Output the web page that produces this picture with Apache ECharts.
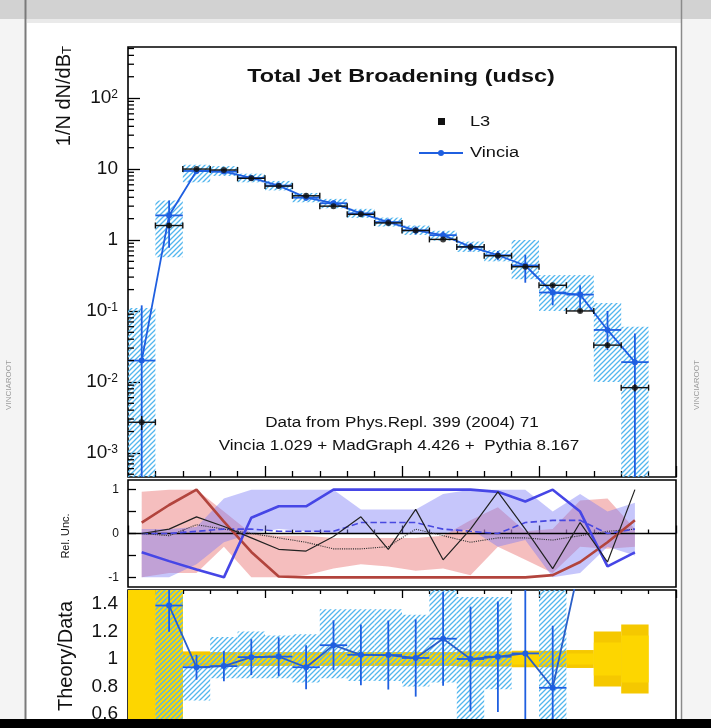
<!DOCTYPE html>
<html>
<head>
<meta charset="utf-8">
<script src="https://cdn.jsdelivr.net/npm/echarts@6/dist/echarts.min.js"></script>
<style>
  html, body { margin: 0; padding: 0; background: #ffffff; }
  #chart { width: 711px; height: 728px; }
</style>
</head>
<body>
<div id="chart"></div>
<script>
// ---- Total jet broadening B_T, L3 data vs Vincia ----
const binEdges = [0, 0.02, 0.04, 0.06, 0.08, 0.10, 0.12, 0.14, 0.16, 0.18, 0.20,
                  0.22, 0.24, 0.26, 0.28, 0.30, 0.32, 0.34, 0.36, 0.38];

// L3 measurement (1/N dN/dB_T) and its error
const dataVal = [0.0027, 1.6, 10.0, 9.7, 7.4, 5.75, 4.2, 3.0, 2.3, 1.74,
                 1.36, 1.02, 0.8, 0.6, 0.42, 0.23, 0.1, 0.033, 0.0083];
const dataErr = [0.0006, 0.12, 0.3, 0.3, 0.22, 0.17, 0.13, 0.09, 0.07, 0.05,
                 0.04, 0.03, 0.025, 0.02, 0.015, 0.01, 0.006, 0.003, 0.001];

// Vincia prediction and its error bars / uncertainty band
const mcVal  = [0.02, 2.22, 9.4, 9.2, 7.5, 5.85, 3.95, 3.3, 2.37, 1.79,
                1.37, 1.17, 0.8, 0.61, 0.437, 0.182, 0.17, 0.054, 0.019];
const mcLo   = [0.00001, 0.78, 8.6, 8.5, 6.9, 5.4, 3.6, 3.0, 2.15, 1.6,
                1.2, 1.02, 0.69, 0.52, 0.25, 0.12, 0.11, 0.028, 0.00001];
const mcHi   = [0.12, 3.6, 10.2, 9.9, 8.1, 6.3, 4.3, 3.6, 2.6, 2.0,
                1.55, 1.32, 0.91, 0.7, 0.62, 0.24, 0.23, 0.1, 0.048];
const bandLo = [0.00001, 0.57, 6.5, 8.0, 6.5, 5.0, 3.4, 2.8, 2.05, 1.55,
                1.18, 0.98, 0.68, 0.5, 0.28, 0.1, 0.1, 0.01, 0.00001];
const bandHi = [0.11, 3.6, 11.5, 11.0, 8.6, 6.8, 4.6, 3.8, 2.75, 2.07,
                1.6, 1.35, 0.95, 0.72, 1.0, 0.32, 0.32, 0.13, 0.06];

// Relative uncertainty components (per bin)
const relRed     = [0.25, 0.65, 1.0, 0.27, -0.42, -0.98, -1, -1, -1, -1,
                    -1, -1, -1, -1, -1, -0.95, -0.65, -0.2, 0.3];
const relBlue    = [-0.43, -0.63, -0.82, -1.0, 0.36, 0.62, 0.62, 1.0, 1.0, 1.0,
                    1.0, 1.0, 1.0, 0.95, 0.73, 1.0, 0.5, -0.75, -0.43];
const relBlue2   = [0, 0, 0.05, 0.1, 0.1, 0.05, 0.05, 0.05, 0.25, 0.25,
                    0.25, 0.1, 0.05, 0.0, 0.25, 0.3, 0.3, 0.0, 0.1];
const relBlack   = [0, 0.1, 0.38, 0.16, -0.1, -0.36, -0.4, -0.07, 0.38, -0.36,
                    0.55, -0.6, 0.1, 0.95, 0.1, -0.8, 0.25, -0.65, 1.0];
const relBlack2  = [0, -0.05, 0.2, 0.1, 0, -0.1, -0.2, -0.35, -0.35, -0.3,
                    0.1, -0.05, -0.2, -0.1, -0.1, -0.15, -0.05, 0.05, 0.1];
const relPinkHi  = [0.95, 1.0, 1.0, 0.5, 0.0, -0.05, -0.05, -0.1, -0.1, -0.1,
                    -0.1, -0.05, 0.3, 0.6, 0.05, 0.1, 0.75, 0.8, 0.1];
const relPinkLo  = [-1.0, -0.9, -0.9, -0.3, -1.0, -1.0, -0.95, -0.8, -0.7, -0.75,
                    -0.85, -0.8, -0.95, -0.3, -0.6, -0.9, -0.3, -0.35, -0.3];
const relLavHi   = [0.1, 0.1, 0.15, 0.8, 1.0, 1.0, 1.0, 1.0, 0.55, 0.55,
                    0.55, 0.9, 1.0, 1.0, 1.0, 0.5, 0.9, 0.5, 0.7];
const relLavLo   = [-1.0, -1.0, -0.7, -0.2, 0.0, 0.1, 0.05, 0.0, 0.0, 0.0,
                    0.0, 0.0, 0.1, -0.3, -0.15, -1.0, -0.9, -0.3, -0.5];

// Theory/Data panel
const ratioErr   = [0, 0.19, 0.09, 0.11, 0.13, 0.14, 0.16, 0.18, 0.22, 0.25,
                    0.28, 0.34, 0.38, 0.4, 1.2, 0.45, 0.1, 0.1, 0.1];
const ratioBandLo = [null, 0.4, 0.7, 0.86, 0.86, 0.86, 0.83, 0.86, 0.84, 0.84,
                     0.8, 0.83, 0.4, 0.78, null, 0.4, null, null, null];
const ratioBandHi = [null, 1.6, 1.03, 1.16, 1.2, 1.17, 1.18, 1.36, 1.36, 1.36,
                     1.32, 1.6, 1.45, 1.45, null, 1.6, null, null, null];
const dataRelTot  = [0.8, 0.8, 0.055, 0.05, 0.05, 0.05, 0.05, 0.05, 0.05, 0.05,
                     0.05, 0.05, 0.055, 0.055, 0.06, 0.06, 0.065, 0.2, 0.25];
const dataRelStat = [0.8, 0.8, 0.03, 0.03, 0.03, 0.03, 0.03, 0.03, 0.03, 0.03,
                     0.03, 0.03, 0.035, 0.035, 0.04, 0.04, 0.04, 0.12, 0.17];

// Axis decoration
const logDecades = [-4, -3, -2, -1, 0, 1, 2];
const logMinorMult = [2, 3, 4, 5, 6, 7, 8, 9];

const FONT = 'Liberation Sans, Arial, Helvetica, sans-serif';
const BLUE = '#1f5fe0';
const HATCH_BLUE = '#52b6ee';

const centers = binEdges.slice(0, -1).map((e, i) => (e + binEdges[i + 1]) / 2);

function hatchPattern(color, size, width) {
  const c = document.createElement('canvas');
  c.width = size; c.height = size;
  const g = c.getContext('2d');
  g.strokeStyle = color; g.lineWidth = width;
  g.beginPath();
  g.moveTo(0, size); g.lineTo(size, 0);
  g.moveTo(-size / 2, size / 2); g.lineTo(size / 2, -size / 2);
  g.moveTo(size / 2, size * 1.5); g.lineTo(size * 1.5, size / 2);
  g.stroke();
  return { image: c, repeat: 'repeat' };
}
const blueHatch = hatchPattern(HATCH_BLUE, 5, 1.3);

function clampRect(x0, y0, x1, y1, cs) {
  const l = Math.max(Math.min(x0, x1), cs.x), r = Math.min(Math.max(x0, x1), cs.x + cs.width);
  const t = Math.max(Math.min(y0, y1), cs.y), b = Math.min(Math.max(y0, y1), cs.y + cs.height);
  return { x: l, y: t, width: Math.max(0, r - l), height: Math.max(0, b - t) };
}

// boxes [x0, x1, y0, y1]
function boxSeries(name, xi, yi, boxes, fill, z) {
  return {
    name, type: 'custom', xAxisIndex: xi, yAxisIndex: yi, z, clip: true,
    encode: { x: [0, 1], y: [2, 3] },
    data: boxes,
    renderItem(params, api) {
      const p0 = api.coord([api.value(0), api.value(2)]);
      const p1 = api.coord([api.value(1), api.value(3)]);
      return { type: 'rect', shape: clampRect(p0[0], p0[1], p1[0], p1[1], params.coordSys),
               style: { fill } };
    }
  };
}

// error crosses [xc, y, xlo, xhi, ylo, yhi]
function crossSeries(name, xi, yi, rows, color, width, caps, z) {
  return {
    name, type: 'custom', xAxisIndex: xi, yAxisIndex: yi, z, clip: true,
    encode: { x: [0, 2, 3], y: [1, 4, 5] },
    data: rows,
    renderItem(params, api) {
      const cs = params.coordSys;
      const c = api.coord([api.value(0), api.value(1)]);
      const l = api.coord([api.value(2), api.value(1)]);
      const r = api.coord([api.value(3), api.value(1)]);
      const lo = api.coord([api.value(0), api.value(4)]);
      const hi = api.coord([api.value(0), api.value(5)]);
      const yb = Math.min(lo[1], cs.y + cs.height), yt = Math.max(hi[1], cs.y);
      const st = { stroke: color, lineWidth: width };
      const kids = [];
      if (c[1] >= cs.y && c[1] <= cs.y + cs.height) {
        kids.push({ type: 'line', shape: { x1: l[0], y1: c[1], x2: r[0], y2: c[1] }, style: st });
        if (caps) {
          kids.push({ type: 'line', shape: { x1: l[0], y1: c[1] - 3, x2: l[0], y2: c[1] + 3 }, style: st });
          kids.push({ type: 'line', shape: { x1: r[0], y1: c[1] - 3, x2: r[0], y2: c[1] + 3 }, style: st });
        }
      }
      if (yb > yt) kids.push({ type: 'line', shape: { x1: c[0], y1: yt, x2: c[0], y2: yb }, style: st });
      return { type: 'group', children: kids };
    }
  };
}

// filled band polygon through bin centres
function bandSeries(name, xi, yi, lo, hi, fill, z) {
  return {
    name, type: 'custom', xAxisIndex: xi, yAxisIndex: yi, z, clip: true,
    data: [[centers[0], 0]],
    renderItem(params, api) {
      const pts = [];
      hi.forEach((v, i) => pts.push(api.coord([centers[i], v])));
      for (let i = lo.length - 1; i >= 0; i--) pts.push(api.coord([centers[i], lo[i]]));
      return { type: 'polygon', shape: { points: pts }, style: { fill } };
    }
  };
}

function relLine(name, vals, color, width, type, z) {
  return {
    name, type: 'line', xAxisIndex: 1, yAxisIndex: 1, z, symbol: 'none', silent: true,
    data: vals.map((v, i) => [centers[i], v]),
    lineStyle: { color, width, type }
  };
}

// ---- build series ----
const mainHatch = bandLo.map((lo, i) => [binEdges[i], binEdges[i + 1], lo, bandHi[i]]);
const mcCross = mcVal.map((v, i) => [centers[i], v, binEdges[i], binEdges[i + 1], mcLo[i], mcHi[i]]);
const dataCross = dataVal.map((v, i) => [centers[i], v, binEdges[i], binEdges[i + 1], v - dataErr[i], v + dataErr[i]]);

const ratioVal = mcVal.map((m, i) => m / dataVal[i]);
const ratioIdx = centers.map((c, i) => i).filter(i => i >= 1);
const ratioLine = ratioIdx.map(i => [centers[i], ratioVal[i]]);
const ratioCross = ratioIdx.map(i => [centers[i], ratioVal[i], binEdges[i], binEdges[i + 1],
                                      ratioVal[i] - ratioErr[i], ratioVal[i] + ratioErr[i]]);
const ratioHatch = [];
ratioBandLo.forEach((lo, i) => { if (lo !== null) ratioHatch.push([binEdges[i], binEdges[i + 1], lo, ratioBandHi[i]]); });
const yellowTot = dataRelTot.map((r, i) => [binEdges[i], binEdges[i + 1], 1 - r, 1 + r]);
const yellowStat = dataRelStat.map((r, i) => [binEdges[i], binEdges[i + 1], 1 - r, 1 + r]);

const minorTickRows = [];
logDecades.forEach(d => logMinorMult.forEach(m => minorTickRows.push([0, m * Math.pow(10, d)])));

const series = [
  // main panel
  boxSeries('mcBand', 0, 0, mainHatch, blueHatch, 2),
  crossSeries('mcErr', 0, 0, mcCross, BLUE, 1.8, false, 4),
  { name: 'Vincia', type: 'line', xAxisIndex: 0, yAxisIndex: 0, z: 5,
    data: mcVal.map((v, i) => [centers[i], v]),
    symbol: 'circle', symbolSize: 6, itemStyle: { color: BLUE },
    lineStyle: { color: BLUE, width: 1.8 } },
  crossSeries('dataErr', 0, 0, dataCross, '#111', 1.4, true, 6),
  { name: 'L3', type: 'scatter', xAxisIndex: 0, yAxisIndex: 0, z: 7,
    data: dataVal.map((v, i) => [centers[i], v]),
    symbol: 'circle', symbolSize: 6, itemStyle: { color: '#111' } },
  { name: 'logMinor', type: 'custom', xAxisIndex: 0, yAxisIndex: 0, z: 8, clip: true,
    encode: { x: 0, y: 1 }, data: minorTickRows,
    renderItem(params, api) {
      const p = api.coord([0, api.value(1)]);
      const cs = params.coordSys;
      if (p[1] < cs.y || p[1] > cs.y + cs.height) return null;
      return { type: 'line', shape: { x1: cs.x, y1: p[1], x2: cs.x + 6, y2: p[1] },
               style: { stroke: '#000', lineWidth: 1.3 } };
    } },

  // relative uncertainty panel
  bandSeries('pink', 1, 1, relPinkLo, relPinkHi, 'rgba(232,110,110,0.45)', 2),
  bandSeries('lavender', 1, 1, relLavLo, relLavHi, 'rgba(120,120,245,0.42)', 3),
  { name: 'zero', type: 'line', xAxisIndex: 1, yAxisIndex: 1, z: 4, symbol: 'none', silent: true,
    data: [[0, 0], [0.4, 0]], lineStyle: { color: '#000', width: 1.4 } },
  relLine('black2', relBlack2, '#333', 1.1, 'dotted', 5),
  relLine('blue2', relBlue2, '#4848e0', 1.6, 'dashed', 5),
  relLine('red', relRed, '#b2443d', 2.6, 'solid', 6),
  relLine('blue', relBlue, '#4646e6', 2.6, 'solid', 6),
  relLine('black', relBlack, '#222', 1.2, 'solid', 7),

  // theory / data panel
  boxSeries('dataTot', 2, 2, yellowTot, '#f5c800', 2),
  boxSeries('dataStat', 2, 2, yellowStat, '#fdd600', 3),
  boxSeries('ratioBand', 2, 2, ratioHatch, blueHatch, 4),
  crossSeries('ratioErr', 2, 2, ratioCross, BLUE, 1.8, false, 5),
  { name: 'ratio', type: 'line', xAxisIndex: 2, yAxisIndex: 2, z: 6,
    data: ratioLine, symbol: 'circle', symbolSize: 6, itemStyle: { color: BLUE },
    lineStyle: { color: '#2a5fc8', width: 1.8 } }
];

const tickStyle = { color: '#000', width: 1.3 };
function xAx(gi, position, major, minor) {
  return {
    gridIndex: gi, type: 'value', min: 0, max: 0.4, interval: 0.1, position,
    axisLine: { show: false },
    axisTick: { show: true, inside: true, length: major, lineStyle: tickStyle },
    minorTick: { show: true, splitNumber: 5, length: minor, lineStyle: tickStyle },
    axisLabel: { show: false }, splitLine: { show: false }, minorSplitLine: { show: false }
  };
}

const sup = { fontSize: 12, fontFamily: FONT, color: '#111', verticalAlign: 'top', lineHeight: 12 };

function gtext(x, y, text, font, scaleX, align) {
  return { type: 'text', x, y, z: 20, scaleX,
    style: { text, font: font + ' ' + FONT, fill: '#111', align: align || 'center', verticalAlign: 'middle' } };
}

const option = {
  animation: false,
  backgroundColor: 'transparent',
  grid: [
    { left: 128, top: 47, width: 548, height: 430, show: true, borderColor: '#000', borderWidth: 1.6 },
    { left: 128, top: 480, width: 548, height: 107, show: true, borderColor: '#000', borderWidth: 1.6 },
    { left: 128, top: 590, width: 548, height: 155, show: true, borderColor: '#000', borderWidth: 1.6 }
  ],
  xAxis: [xAx(0, 'bottom', 11, 6), xAx(1, 'bottom', 8, 4), xAx(2, 'top', 8, 4)],
  yAxis: [
    { gridIndex: 0, type: 'log', logBase: 10, min: Math.pow(10, -3.34), max: Math.pow(10, 2.72),
      axisLine: { show: false },
      axisTick: { show: true, inside: true, length: 12, lineStyle: tickStyle },
      splitLine: { show: false },
      axisLabel: {
        margin: 10, fontSize: 19, fontFamily: FONT, color: '#111', showMinLabel: false, showMaxLabel: false,
        formatter(v) {
          const lg = Math.log10(v), e = Math.round(lg);
          if (Math.abs(lg - e) > 1e-6) return '';
          if (e === 0) return '1';
          if (e === 1) return '10';
          return '10{s|' + e + '}';
        },
        rich: { s: sup }
      } },
    { gridIndex: 1, type: 'value', min: -1.22, max: 1.22, splitNumber: 5,
      axisLine: { show: false },
      axisTick: { show: true, inside: true, length: 8, lineStyle: tickStyle },
      splitLine: { show: false },
      axisLabel: { margin: 9, fontSize: 12, fontFamily: FONT, color: '#111', showMinLabel: false, showMaxLabel: false,
        formatter(v) { return (Math.abs(v - Math.round(v)) < 1e-6) ? String(Math.round(v)) : ''; } } },
    { gridIndex: 2, type: 'value', min: 0.5, max: 1.5, splitNumber: 5,
      axisLine: { show: false },
      axisTick: { show: true, inside: true, length: 11, lineStyle: tickStyle },
      minorTick: { show: true, splitNumber: 5, length: 6, lineStyle: tickStyle },
      splitLine: { show: false }, minorSplitLine: { show: false },
      axisLabel: { margin: 10, fontSize: 19, fontFamily: FONT, color: '#111', showMinLabel: false, showMaxLabel: false,
        formatter(v) { return (v > 0.55 && v < 1.45) ? String(Math.round(v * 10) / 10) : ''; } } }
  ],
  graphic: [
    // page frame
    { type: 'rect', z: -10, shape: { x: 0, y: 0, width: 26, height: 728 }, style: { fill: '#f4f4f4' } },
    { type: 'rect', z: -10, shape: { x: 681, y: 0, width: 30, height: 728 }, style: { fill: '#f4f4f4' } },
    { type: 'rect', z: -9, shape: { x: 0, y: 0, width: 711, height: 19 }, style: { fill: '#d2d2d2' } },
    { type: 'rect', z: -9, shape: { x: 27, y: 19, width: 654, height: 4 }, style: { fill: '#eaeaea' } },
    { type: 'line', z: -8, shape: { x1: 25.5, y1: 0, x2: 25.5, y2: 728 }, style: { stroke: '#7a7a7a', lineWidth: 2 } },
    { type: 'line', z: -8, shape: { x1: 681.5, y1: 0, x2: 681.5, y2: 728 }, style: { stroke: '#8a8a8a', lineWidth: 1.5 } },
    { type: 'text', x: 9, y: 385, rotation: Math.PI / 2,
      style: { text: 'VINCIAROOT', font: '8px ' + FONT, fill: '#9a9a9a', align: 'center', verticalAlign: 'middle' } },
    { type: 'text', x: 697, y: 385, rotation: Math.PI / 2,
      style: { text: 'VINCIAROOT', font: '8px ' + FONT, fill: '#9a9a9a', align: 'center', verticalAlign: 'middle' } },

    // title, legend and annotations
    gtext(401, 77, 'Total Jet Broadening (udsc)', 'bold 18px', 1.3),
    { type: 'rect', z: 20, shape: { x: 438, y: 118, width: 7, height: 7 }, style: { fill: '#111' } },
    gtext(470, 122, 'L3', '14px', 1.3, 'left'),
    { type: 'line', z: 20, shape: { x1: 419, y1: 153, x2: 463, y2: 153 }, style: { stroke: BLUE, lineWidth: 1.8 } },
    { type: 'circle', z: 20, shape: { cx: 441, cy: 153, r: 3 }, style: { fill: BLUE } },
    gtext(470, 153, 'Vincia', '14px', 1.3, 'left'),
    gtext(402, 423, 'Data from Phys.Repl. 399 (2004) 71', '14px', 1.22),
    gtext(399, 446, 'Vincia 1.029 + MadGraph 4.426 +  Pythia 8.167', '14px', 1.22),

    // axis titles
    { type: 'text', x: 64, y: 46, rotation: Math.PI / 2, z: 20,
      style: { text: '1/N dN/dB{t|T}', font: '20px ' + FONT, fill: '#111', align: 'right', verticalAlign: 'middle',
               rich: { t: { fontSize: 13, fontFamily: FONT, verticalAlign: 'bottom', lineHeight: 13, padding: [10, 0, 0, 0] } } } },
    { type: 'text', x: 66, y: 536, rotation: Math.PI / 2, z: 20,
      style: { text: 'Rel. Unc.', font: '11px ' + FONT, fill: '#111', align: 'center', verticalAlign: 'middle' } },
    { type: 'text', x: 66, y: 656, rotation: Math.PI / 2, z: 20,
      style: { text: 'Theory/Data', font: '20px ' + FONT, fill: '#111', align: 'center', verticalAlign: 'middle' } },

    // bottom edge
    { type: 'rect', z: 50, shape: { x: 0, y: 719, width: 711, height: 9 }, style: { fill: '#000' } }
  ],
  series
};

const chart = echarts.init(document.getElementById('chart'), null, { renderer: 'canvas' });
chart.setOption(option);
</script>
</body>
</html>
